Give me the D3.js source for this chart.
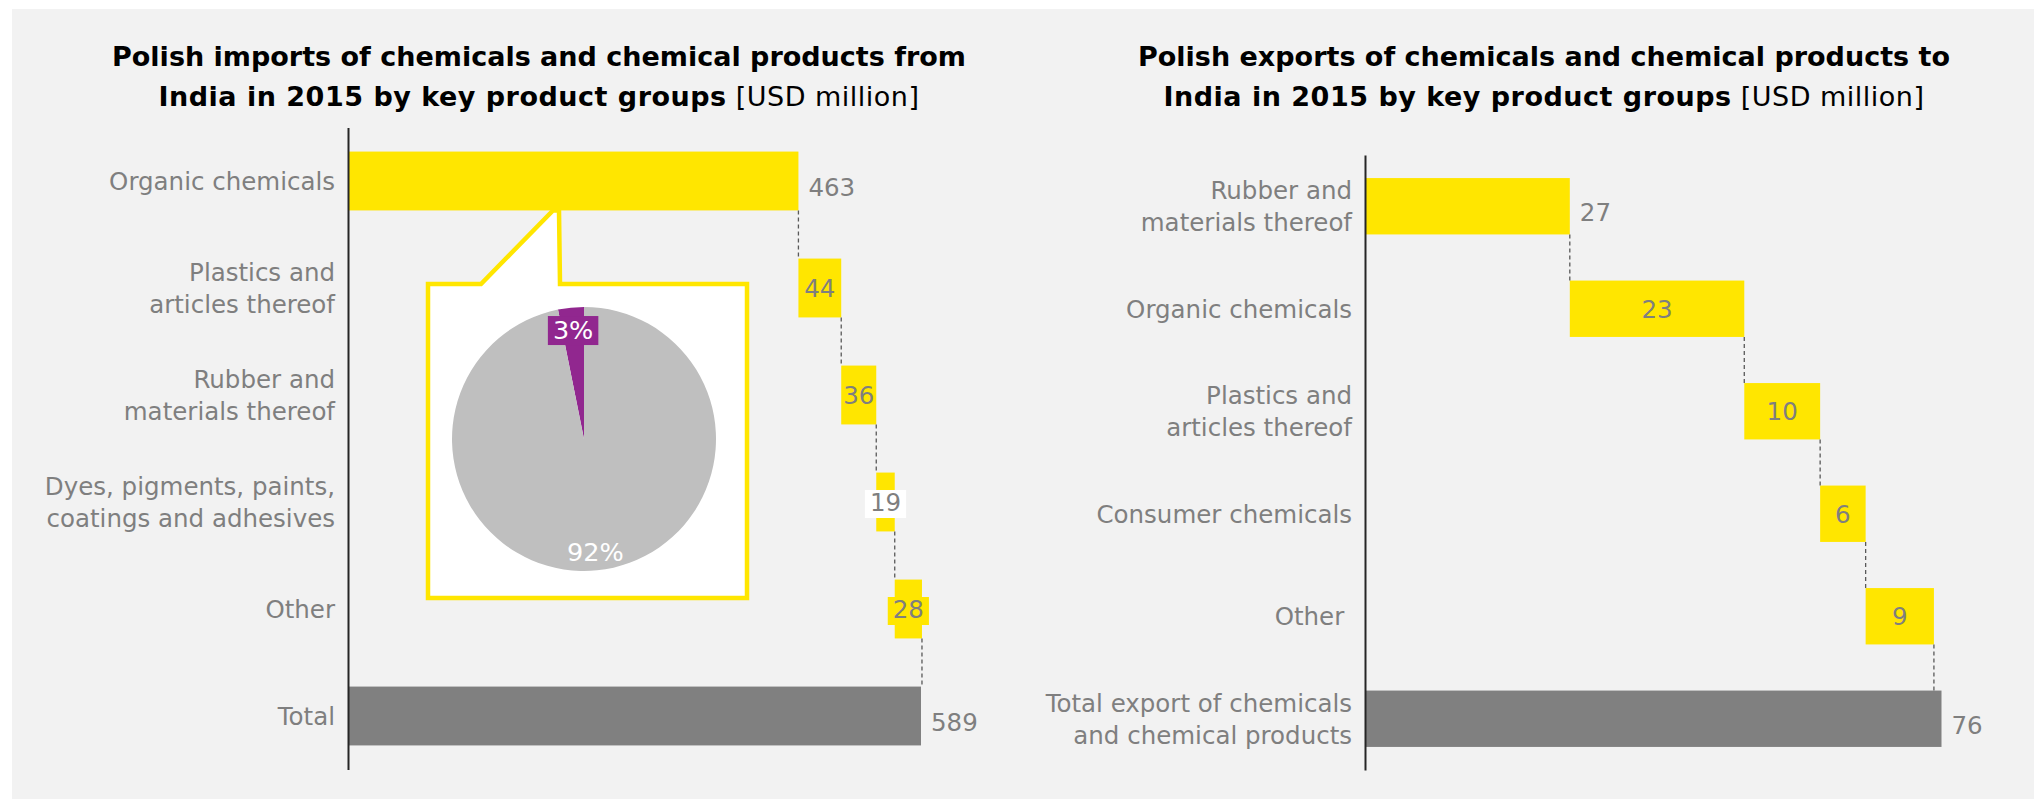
<!DOCTYPE html>
<html>
<head>
<meta charset="utf-8">
<script src="https://cdn.jsdelivr.net/npm/d3@7/dist/d3.min.js"></script>
<style>
  html, body { margin: 0; padding: 0; background: #ffffff; }
  svg { display: block; }
  text { font-family: "DejaVu Sans", sans-serif; }
</style>
</head>
<body>
<svg id="chart" width="2038" height="799"></svg>
<script>
// ---- Data: imports from India (USD million) ----
const importCategories = [
  "Organic chemicals",
  "Plastics and\narticles thereof",
  "Rubber and\nmaterials thereof",
  "Dyes, pigments, paints,\ncoatings and adhesives",
  "Other",
  "Total"
];
const importValues = [463, 44, 36, 19, 28];
const importTotal = 589;

// ---- Data: exports to India (USD million) ----
const exportCategories = [
  "Rubber and\nmaterials thereof",
  "Organic chemicals",
  "Plastics and\narticles thereof",
  "Consumer chemicals",
  "Other ",
  "Total export of chemicals\nand chemical products"
];
const exportValues = [27, 23, 10, 6, 9];
const exportTotal = 76;

// ---- Share of India in imports of organic chemicals ----
const pieLabels = ["3%", "92%"];
const pieValues = [3, 92];

// ---- Titles ----
const importTitle = ["Polish imports of chemicals and chemical products from", "India in 2015 by key product groups", " [USD million]"];
const exportTitle = ["Polish exports of chemicals and chemical products to", "India in 2015 by key product groups", " [USD million]"];

// ---- Styling ----
const YELLOW = "#ffe600";
const TOTAL_GREY = "#808080";
const TEXT_GREY = "#7f7f7f";
const PURPLE = "#91278f";
const PIE_GREY = "#bfbfbf";
const FONT_SIZE = 24.5;

const svg = d3.select("#chart");

// background panel
svg.append("rect")
  .attr("x", 12).attr("y", 9)
  .attr("width", 2022).attr("height", 790)
  .attr("fill", "#f2f2f2");

function drawTitle(lines, cx) {
  svg.append("text")
    .attr("x", cx).attr("y", 66)
    .attr("text-anchor", "middle")
    .attr("font-size", 27).attr("font-weight", "bold").attr("fill", "#000")
    .text(lines[0]);
  const t2 = svg.append("text")
    .attr("x", cx).attr("y", 105.5)
    .attr("text-anchor", "middle")
    .attr("letter-spacing", 0.5)
    .attr("font-size", 27).attr("fill", "#000");
  t2.append("tspan").attr("font-weight", "bold").text(lines[1]);
  t2.append("tspan").attr("font-weight", "normal").style("white-space", "pre").text(lines[2]);
}

function drawWaterfall(cfg, categories, values, total, labelModes) {
  const g = svg.append("g");
  const x = d3.scaleLinear().domain([0, total]).range([cfg.axisX, cfg.axisX + cfg.plotWidth]);
  const y = d3.scaleBand().domain(categories).range(cfg.yRange)
    .paddingInner(0.45).paddingOuter(0.225);
  const bw = y.bandwidth();

  const cum = Array.from(d3.cumsum(values));
  const rows = categories.map((c, i) => i < values.length
    ? { cat: c, start: cum[i] - values[i], end: cum[i], value: values[i], total: false, mode: labelModes[i] }
    : { cat: c, start: 0, end: total, value: total, total: true, mode: "outside" });

  // bars
  g.selectAll("rect.bar").data(rows).join("rect")
    .attr("class", "bar")
    .attr("x", d => x(d.start))
    .attr("y", d => y(d.cat))
    .attr("width", d => x(d.end) - x(d.start))
    .attr("height", bw)
    .attr("fill", d => d.total ? TOTAL_GREY : YELLOW);

  // dashed connectors between consecutive bars
  g.selectAll("line.conn").data(rows.slice(0, -1)).join("line")
    .attr("class", "conn")
    .attr("x1", d => x(d.end)).attr("x2", d => x(d.end))
    .attr("y1", d => y(d.cat) + bw)
    .attr("y2", (d, i) => y(rows[i + 1].cat))
    .attr("stroke", "#595959").attr("stroke-width", 1.3)
    .attr("stroke-dasharray", "4,3");

  return { g, x, y, bw, rows };
}

function drawValueLabels(w) {
  const { g, x, y, bw, rows } = w;
  rows.forEach(d => {
    const cy = y(d.cat) + bw / 2;
    const outside = d.mode === "outside";
    const tx = outside ? x(d.end) + 10 : (x(d.start) + x(d.end)) / 2;
    const ty = outside ? cy + 15 : cy + 9;
    const lg = g.append("g");
    const t = lg.append("text")
      .attr("x", tx).attr("y", ty)
      .attr("text-anchor", outside ? "start" : "middle")
      .attr("font-size", FONT_SIZE).attr("fill", TEXT_GREY)
      .text(d3.format("d")(d.value));
    if (d.mode === "boxWhite" || d.mode === "boxYellow") {
      const bb = t.node().getBBox();
      lg.insert("rect", "text")
        .attr("x", bb.x - 5).attr("y", bb.y + 2)
        .attr("width", bb.width + 10).attr("height", bb.height - 1)
        .attr("fill", d.mode === "boxWhite" ? "#ffffff" : YELLOW);
    }
  });
}

function drawAxis(w) {
  const { x, y } = w;
  const ax = svg.append("g")
    .attr("transform", `translate(${x.range()[0]},0)`)
    .call(d3.axisLeft(y).tickSize(0).tickSizeOuter(0).tickPadding(13));
  ax.select(".domain").attr("stroke", "#262626").attr("stroke-width", 2);
  ax.selectAll(".tick text")
    .attr("font-family", "DejaVu Sans")
    .attr("font-size", FONT_SIZE)
    .attr("fill", TEXT_GREY)
    .attr("dy", null)
    .style("white-space", "pre")
    .each(function (d) {
      const lines = d.split("\n");
      const sel = d3.select(this).text(null);
      lines.forEach((ln, k) => {
        sel.append("tspan")
          .attr("x", -13)
          .attr("y", (k - (lines.length - 1) / 2) * 32 + 9)
          .text(ln);
      });
    });
}

// ---------- Imports chart ----------
drawTitle(importTitle, 539);
const imp = drawWaterfall(
  { axisX: 348, plotWidth: 573, yRange: [127.5, 769.5] },
  importCategories, importValues, importTotal,
  ["outside", "inside", "inside", "boxWhite", "boxYellow"]
);

// callout from the organic chemicals bar with the pie of India's share
const box = { x0: 428, y0: 284, x1: 747, y1: 598 };
const tipY = imp.y(importCategories[0]) + imp.bw;
const calloutPath = d3.path();
calloutPath.moveTo(box.x0, box.y0);
calloutPath.lineTo(481, box.y0);
calloutPath.lineTo(553, tipY);
calloutPath.lineTo(559, tipY);
calloutPath.lineTo(560, box.y0);
calloutPath.lineTo(box.x1, box.y0);
calloutPath.lineTo(box.x1, box.y1);
calloutPath.lineTo(box.x0, box.y1);
calloutPath.closePath();
imp.g.append("path")
  .attr("d", calloutPath.toString())
  .attr("fill", "#ffffff")
  .attr("stroke", YELLOW).attr("stroke-width", 4.5)
  .attr("stroke-linejoin", "miter");

const pieR = 132;
const pieG = imp.g.append("g").attr("transform", `translate(${box.x0 + 156},${box.y0 + 155})`);
const pieTotal = d3.sum(pieValues);
const startA = -2 * Math.PI * pieValues[0] / pieTotal;
const arcs = d3.pie().sort(null).startAngle(startA).endAngle(startA + 2 * Math.PI)(pieValues);
const arc = d3.arc().innerRadius(0).outerRadius(pieR);
pieG.selectAll("path").data(arcs).join("path")
  .attr("d", arc)
  .attr("fill", (d, i) => i === 0 ? PURPLE : PIE_GREY);

const labelRadius = [110, 114];
arcs.forEach((a, i) => {
  const c = d3.arc().innerRadius(labelRadius[i]).outerRadius(labelRadius[i]).centroid(a);
  const lg = pieG.append("g");
  const t = lg.append("text")
    .attr("x", c[0]).attr("y", c[1] + 9)
    .attr("text-anchor", "middle")
    .attr("font-family", "Liberation Sans, Arial, sans-serif")
    .attr("font-size", 25.5).attr("fill", "#ffffff")
    .text(pieLabels[i]);
  if (i === 0) {
    const bb = t.node().getBBox();
    lg.insert("rect", "text")
      .attr("x", bb.x - 5).attr("y", bb.y + 1.5)
      .attr("width", bb.width + 10).attr("height", bb.height - 1)
      .attr("fill", PURPLE);
  }
});

drawValueLabels(imp);
drawAxis(imp);

// ---------- Exports chart ----------
drawTitle(exportTitle, 1544);
const exp = drawWaterfall(
  { axisX: 1365, plotWidth: 576.5, yRange: [155, 770] },
  exportCategories, exportValues, exportTotal,
  ["outside", "inside", "inside", "inside", "inside"]
);
drawValueLabels(exp);
drawAxis(exp);
</script>
</body>
</html>
